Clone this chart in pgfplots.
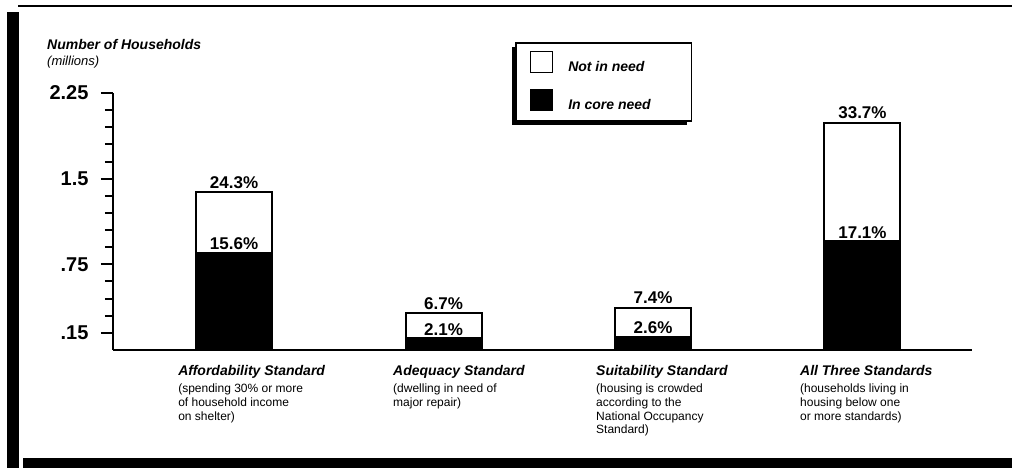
\documentclass[border=0pt]{standalone}
\usepackage{pgfplots}
\pgfplotsset{compat=1.18}
\usepackage{pgfplotstable}
\usetikzlibrary{shadows}
\usepackage{fontspec}
\setmainfont{Liberation Sans}
\makeatletter
\tikzset{no preactions/.code={\let\tikz@preactions\pgfutil@empty}}
\makeatother

\pgfplotstableread{
x core total corelbl totlbl
0 0.85 1.38 15.6 24.3
1 0.105 0.32 2.1 6.7
2 0.115 0.37 2.6 7.4
3 0.95 1.99 17.1 33.7
}\data

\newcommand{\catlabel}[2]{\begin{tabular}[t]{@{}l@{}}{\fontsize{14}{16}\selectfont\bfseries\itshape #1}\\[2.8pt] #2\end{tabular}}

\begin{document}
\begin{tikzpicture}[x=1pt,y=1pt]
\useasboundingbox (0,0) rectangle (1012,468);
% frame
\fill[black] (7,0) rectangle (19,456);
\fill[black] (18,461) rectangle (1012,463);
\fill[black] (23,0) rectangle (1012,10);

\node[anchor=base west, inner sep=0, font=\fontsize{14}{16}\selectfont\bfseries\itshape] at (47,418) {Number of Households};
\node[anchor=base west, inner sep=0, font=\fontsize{13}{15}\selectfont\itshape] at (47,402) {(millions)};

\begin{axis}[
  at={(113pt,118pt)}, anchor=south west,
  scale only axis, width=859pt, height=257pt,
  xmin=-0.578, xmax=3.523, ymin=0, ymax=2.25,
  axis x line=bottom, axis y line=left,
  axis line style={-},
  x axis line style={line width=2.5pt},
  y axis line style={line width=2pt},
  xtick=\empty,
  ytick={0.15,0.75,1.5,2.25},
  yticklabels={.15,.75,1.5,2.25},
  minor ytick={0.3,0.45,0.6,0.9,1.05,1.2,1.35,1.65,1.8,1.95,2.1},
  tick align=outside,
  major tick length=12pt, minor tick length=8pt,
  every tick/.style={black, line width=2pt},
  yticklabel style={font=\fontsize{20}{20}\selectfont\bfseries, xshift=-9pt},
  ybar, bar width=76pt, bar shift=0pt,
  clip=false,
  legend cell align=left,
  legend style={at={(0.468,1.198)}, anchor=north west, draw=black, line width=1.5pt, fill=white,
    inner xsep=14pt, inner ysep=8pt, font=\fontsize{14}{16}\selectfont\bfseries\itshape,
    row sep=14pt, /tikz/every odd column/.append style={column sep=13pt},
    drop shadow={shadow xshift=-4pt, shadow yshift=-4pt, fill=black, opacity=1}},
  point meta=explicit symbolic,
]
\addplot[fill=white, draw=black, line width=2pt,
  legend image code/.code={\draw[no preactions, line width=1.5pt, fill=white] (2pt,-5.5pt) rectangle (24pt,15.5pt);}]
  table[x=x, y=total] {\data};
\addlegendentry{\makebox[107pt][l]{Not in need}}
\addplot[fill=black, draw=black, line width=2pt,
  legend image code/.code={\draw[no preactions, line width=1.5pt, fill=black] (2pt,-5.5pt) rectangle (24pt,15.5pt);}]
  table[x=x, y=core] {\data};
\addlegendentry{\makebox[107pt][l]{In core need}}
\addplot[draw=none, fill=none, forget plot, nodes near coords={\pgfplotspointmeta\%},
  every node near coord/.append style={font=\fontsize{17}{17}\selectfont\bfseries, anchor=base, inner sep=0, yshift=4pt, black}]
  table[x=x, y=total, meta=totlbl] {\data};
\addplot[draw=none, fill=none, forget plot, nodes near coords={\pgfplotspointmeta\%},
  every node near coord/.append style={font=\fontsize{17}{17}\selectfont\bfseries, anchor=base, inner sep=0, yshift=3pt, black}]
  table[x=x, y=core, meta=corelbl] {\data};

\node[anchor=base west, inner sep=0, xshift=-56pt, yshift=-26pt, font=\fontsize{12}{13.8}\selectfont] at (axis cs:0,0)
 {\catlabel{Affordability Standard}{(spending 30\% or more\\ of household income\\ on shelter)}};
\node[anchor=base west, inner sep=0, xshift=-50.5pt, yshift=-26pt, font=\fontsize{12}{13.8}\selectfont] at (axis cs:1,0)
 {\catlabel{Adequacy Standard}{(dwelling in need of\\ major repair)}};
\node[anchor=base west, inner sep=0, xshift=-57pt, yshift=-26pt, font=\fontsize{12}{13.8}\selectfont] at (axis cs:2,0)
 {\catlabel{Suitability Standard}{(housing is crowded\\ according to the\\ National Occupancy\\ Standard)}};
\node[anchor=base west, inner sep=0, xshift=-62.5pt, yshift=-26pt, font=\fontsize{12}{13.8}\selectfont] at (axis cs:3,0)
 {\catlabel{All Three Standards}{(households living in\\ housing below one\\ or more standards)}};
\end{axis}
\end{tikzpicture}
\end{document}
